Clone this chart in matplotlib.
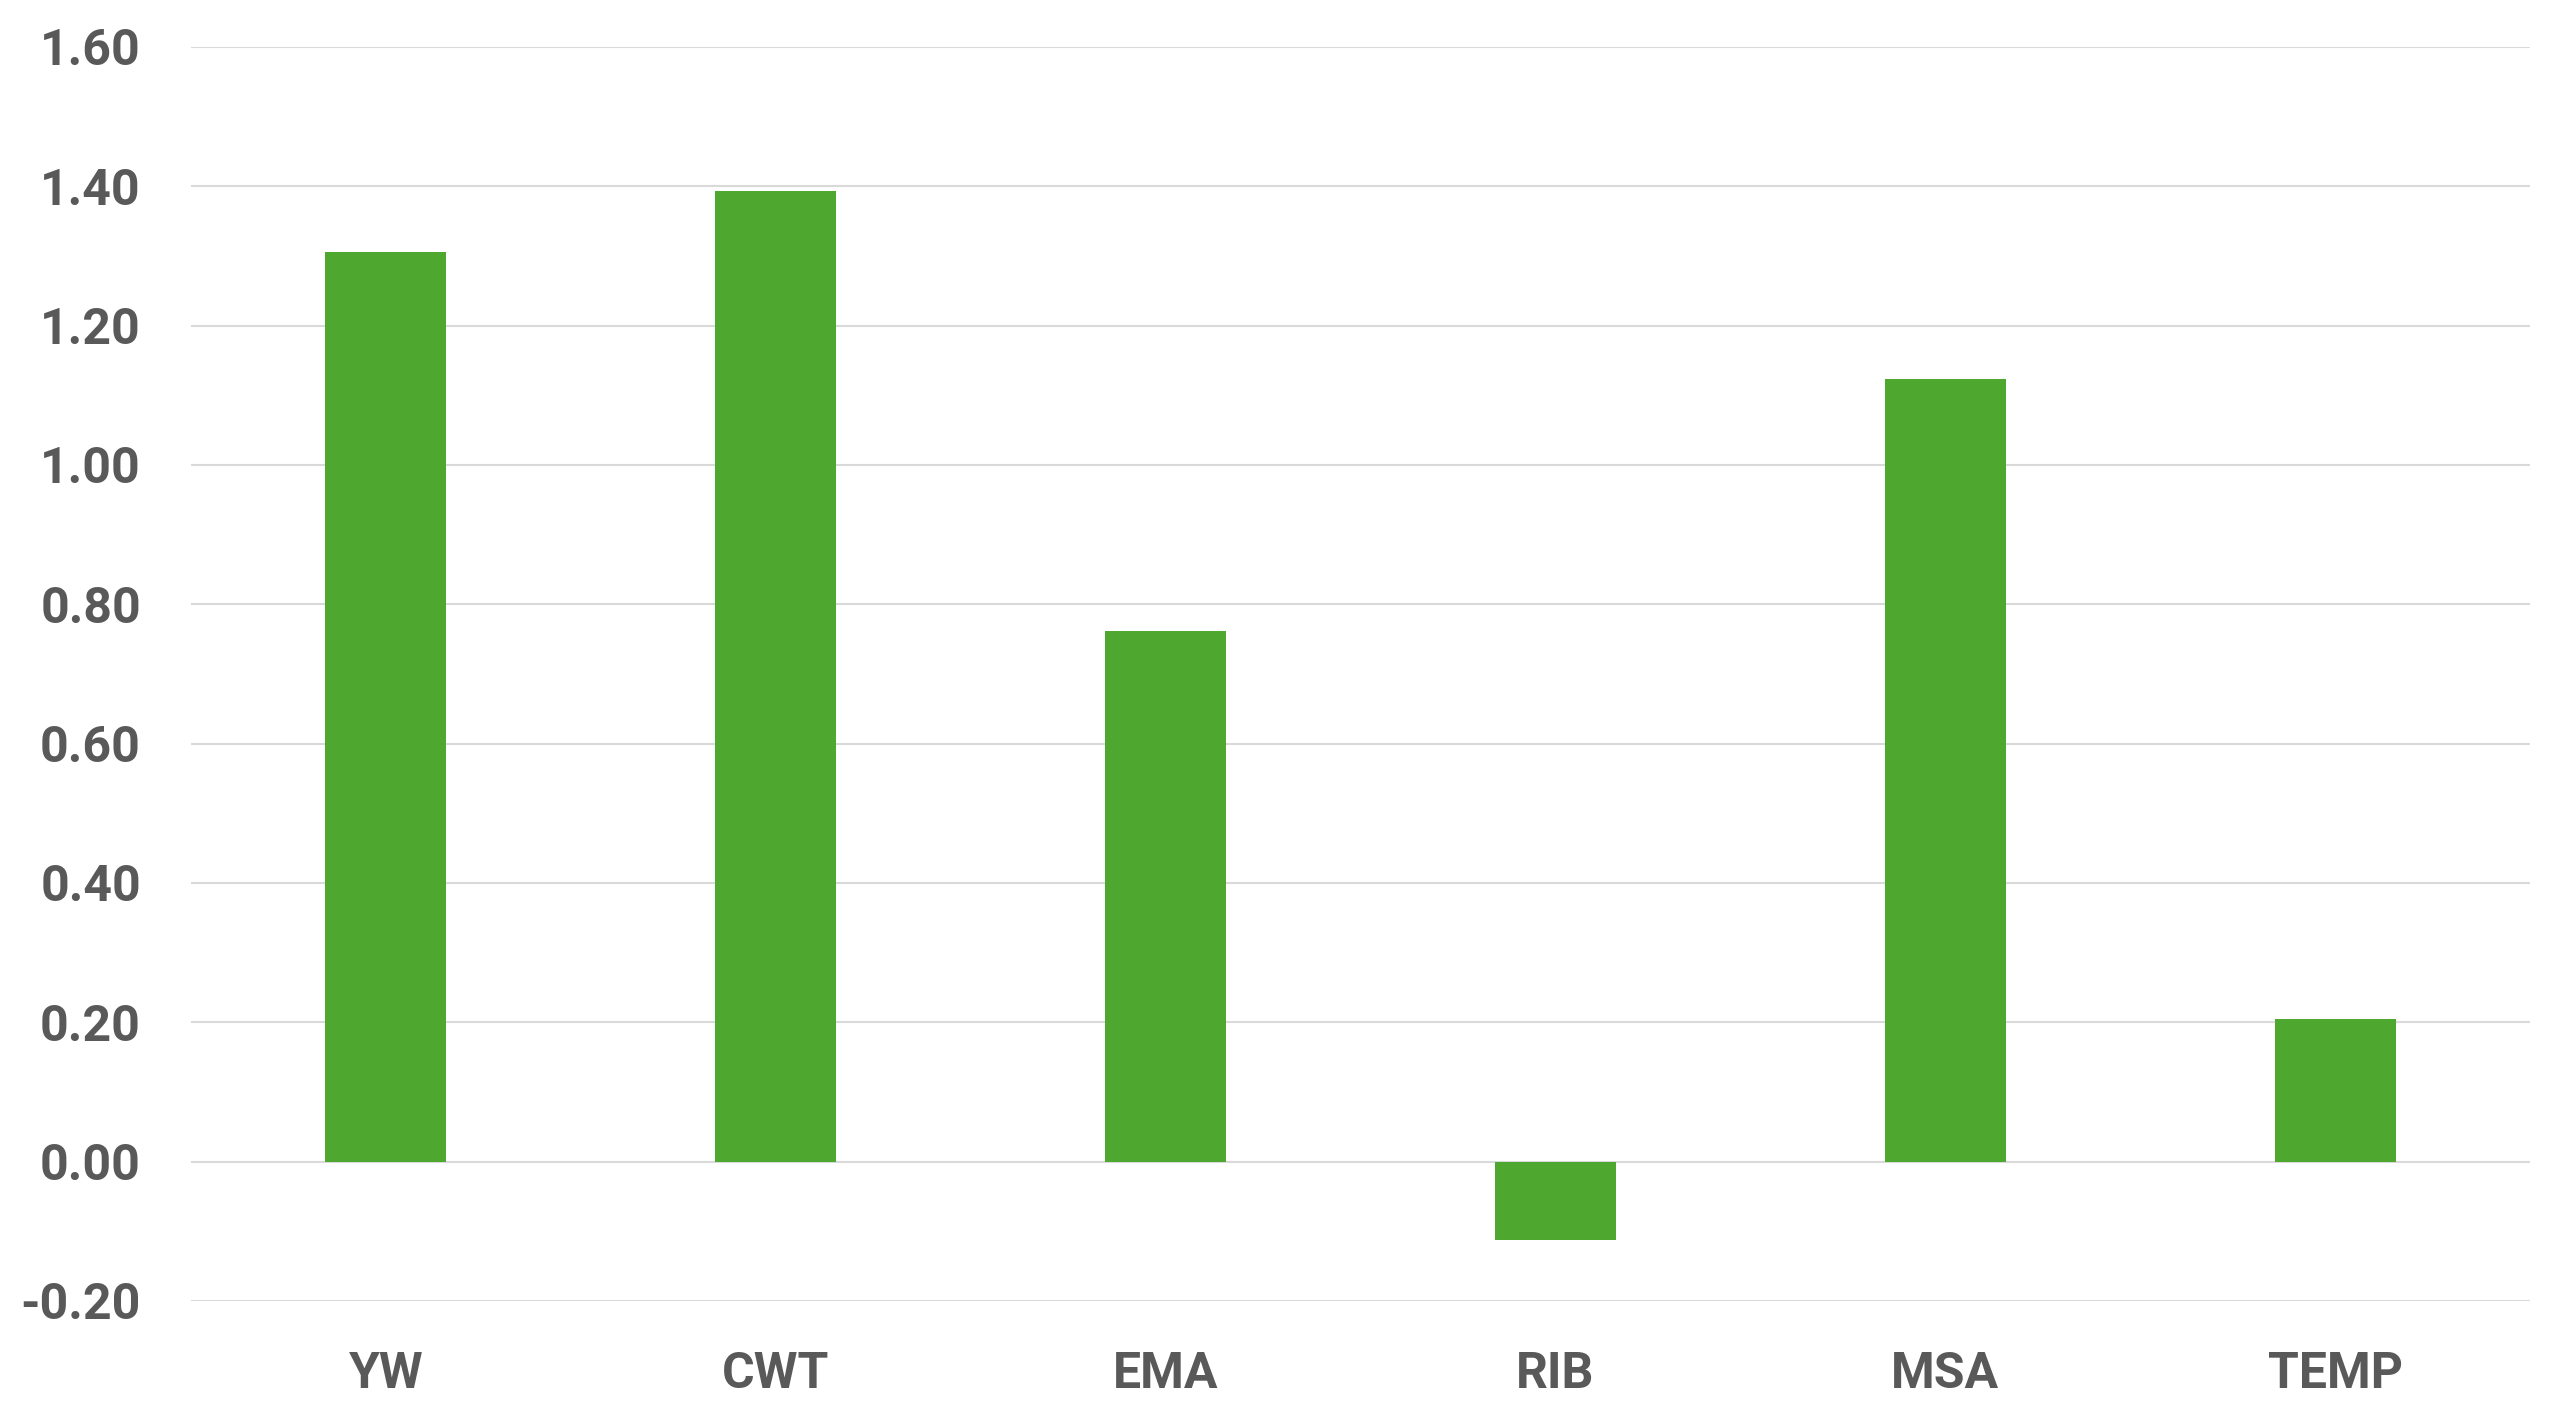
import matplotlib
matplotlib.use("Agg")
import matplotlib.pyplot as plt
from matplotlib.ticker import FuncFormatter

categories = ["YW", "CWT", "EMA", "RIB", "MSA", "TEMP"]
values = [1.305, 1.393, 0.762, -0.113, 1.124, 0.205]
yticks = [-0.20, 0.00, 0.20, 0.40, 0.60, 0.80, 1.00, 1.20, 1.40, 1.60]

plt.rcParams['font.family'] = ['Roboto', 'DejaVu Sans']

fig = plt.figure(figsize=(25.6, 14.19), dpi=100)
ax = fig.add_axes([0.0746, 0.0832, 0.9137, 0.8837])

x = list(range(len(categories)))
ax.bar(x, values, width=0.31, color="#4EA72E", zorder=3)

ax.set_xlim(-0.5, len(categories) - 0.5)
ax.set_ylim(-0.20, 1.60)
ax.set_yticks(yticks)
ax.yaxis.set_major_formatter(FuncFormatter(lambda v, p: f"{v:.2f}"))
ax.set_xticks(x)
ax.set_xticklabels(categories)

ax.grid(axis="y", color="#d9d9d9", linewidth=1.5, zorder=0)
for s in ax.spines.values():
    s.set_visible(False)
ax.tick_params(axis="both", length=0, labelsize=36, labelcolor="#595959")
ax.tick_params(axis="x", pad=36)
ax.tick_params(axis="y", pad=36)
for lbl in ax.get_xticklabels() + ax.get_yticklabels():
    lbl.set_fontweight("bold")

fig.savefig("out.png", dpi=100, facecolor="white")
